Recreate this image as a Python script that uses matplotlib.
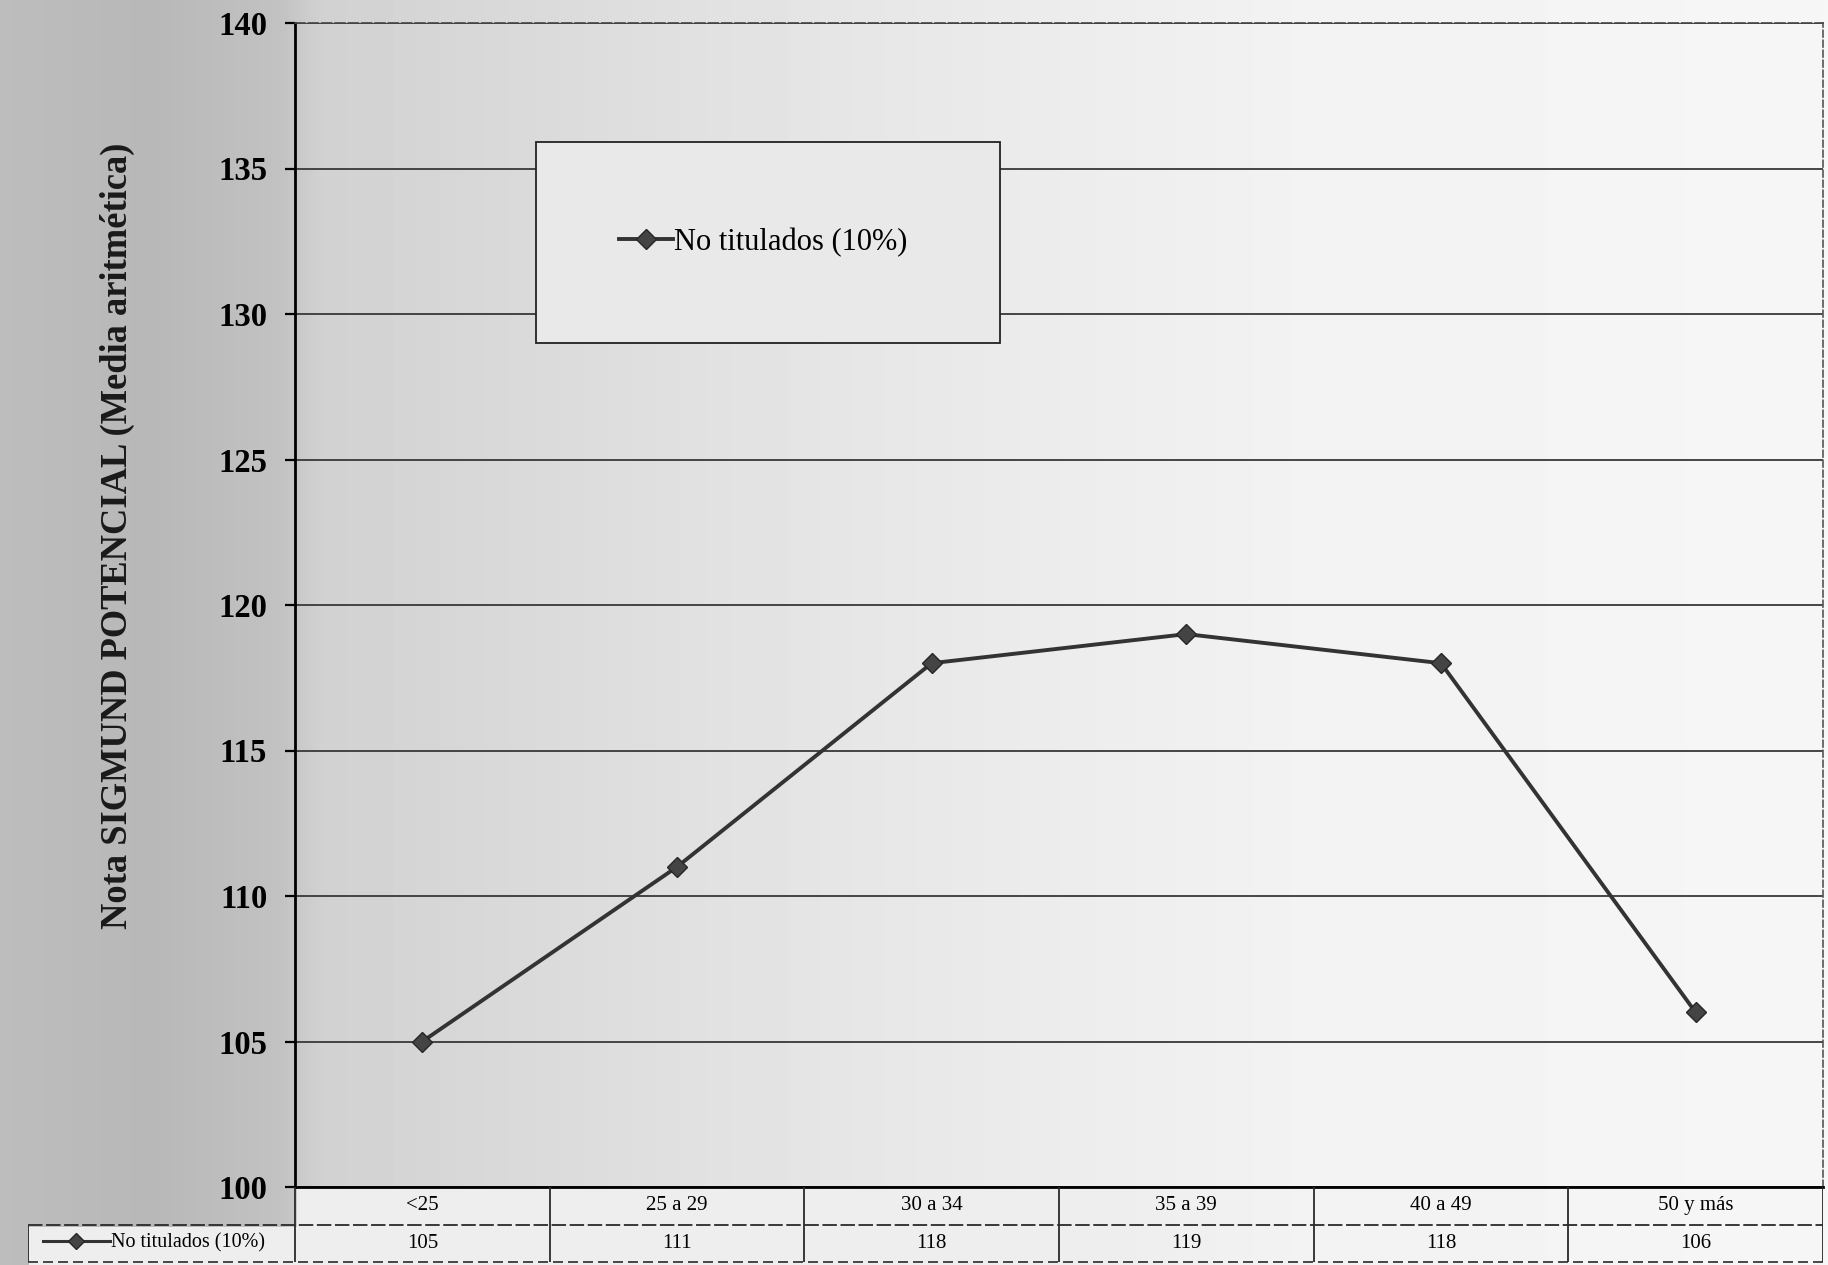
import matplotlib
matplotlib.use('Agg')
import matplotlib.pyplot as plt
from matplotlib.lines import Line2D
from matplotlib.patches import Rectangle
import numpy as np

# Data
age_groups = ["<25", "25 a 29", "30 a 34", "35 a 39", "40 a 49", "50 y más"]
no_titulados = [105, 111, 118, 119, 118, 106]
series_label = "No titulados (10%)"
y_ticks = [100, 105, 110, 115, 120, 125, 130, 135, 140]

plt.rcParams['font.family'] = ['Liberation Serif', 'DejaVu Serif']

W_PX, H_PX = 1828, 1265
fig = plt.figure(figsize=(W_PX / 100, H_PX / 100), dpi=100)

# ── Paper-like grey background (darker on the left) ─────────────
bg = fig.add_axes([0, 0, 1, 1], zorder=-10)
xs = np.arange(W_PX)
shade = np.interp(xs, [0, 150, 280, 320, 500, 750, 1000, 1300, 1828],
                  [0.74, 0.72, 0.76, 0.82, 0.85, 0.89, 0.92, 0.95, 0.965])
img = np.tile(shade, (H_PX, 1))
ys = np.arange(H_PX)[:, None]
# table strip at the bottom is lighter
row1 = (ys > 1188) & (ys <= 1226) & (xs[None, :] > 296)
row2 = (ys > 1226) & (xs[None, :] > 28)
img = np.where(row1 | row2, np.maximum(img, 0.93), img)
bg.imshow(img, cmap='gray', vmin=0, vmax=1, aspect='auto',
          extent=[0, 1, 0, 1], interpolation='bilinear')
bg.axis('off')

# ── Main line chart ──────────────────────────────────────────────
left_px, right_px, top_px, bottom_px = 295, 1823, 23, 1187
ax = fig.add_axes([left_px / W_PX, 1 - bottom_px / H_PX,
                   (right_px - left_px) / W_PX, (bottom_px - top_px) / H_PX])
ax.set_facecolor('none')

x = np.arange(len(age_groups))
line_color = '#333333'
ax.plot(x, no_titulados, color=line_color, lw=2.8, marker='D',
        markersize=10, markerfacecolor='#444444', markeredgecolor='#262626',
        zorder=5, clip_on=False)

ax.set_xlim(-0.5, len(age_groups) - 0.5)
ax.set_ylim(100, 140)
ax.set_yticks(y_ticks)
ax.set_xticks([])
ax.tick_params(axis='y', direction='out', length=7, width=1.6, pad=13,
               labelsize=23.5, color='black')
for lbl in ax.get_yticklabels():
    lbl.set_fontweight('bold')

ax.yaxis.grid(True, color='#383838', lw=1.3, zorder=1)
ax.set_axisbelow(True)
ax.spines['left'].set_linewidth(2.0)
ax.spines['bottom'].set_linewidth(2.0)
ax.spines['top'].set_color('#444444')
ax.spines['top'].set_linewidth(1.2)
ax.spines['top'].set_linestyle((0, (6, 2)))
ax.spines['right'].set_color('#555555')
ax.spines['right'].set_linewidth(1.2)
ax.spines['right'].set_linestyle((0, (4, 2)))

fig.text(117 / W_PX, 1 - 536 / H_PX,
         "Nota SIGMUND POTENCIAL (Media aritmética)",
         rotation=90, ha='center', va='center', fontsize=26.3,
         fontweight='bold', color='#1a1a1a')

# Legend box inside the plot
lx0, lx1, ly0, ly1 = 536, 1000, 142, 343
box = Rectangle(((lx0 - left_px) / (right_px - left_px),
                 (bottom_px - ly1) / (bottom_px - top_px)),
                (lx1 - lx0) / (right_px - left_px),
                (ly1 - ly0) / (bottom_px - top_px),
                transform=ax.transAxes, facecolor='#e9e9e9',
                edgecolor='#222222', lw=1.3, zorder=3)
ax.add_patch(box)
handle = Line2D([], [], color=line_color, lw=2.8, marker='D', markersize=10,
                markerfacecolor='#444444', markeredgecolor='#262626')
cx = ((lx0 + lx1) / 2 - left_px) / (right_px - left_px)
cy = (bottom_px - (ly0 + ly1) / 2) / (bottom_px - top_px)
leg = ax.legend([handle], [series_label], loc='center',
                bbox_to_anchor=(cx - 0.003, cy), frameon=False, fontsize=22,
                handlelength=1.75, handletextpad=0.05)
leg.set_zorder(6)

# ── Data table under the axis ───────────────────────────────────
tab_left_px, tab_bottom_px = 28, 1262
units_per_px = len(age_groups) / (right_px - left_px)
tab_xmin = -0.5 - (left_px - tab_left_px) * units_per_px
tax = fig.add_axes([tab_left_px / W_PX, 1 - tab_bottom_px / H_PX,
                    (right_px - tab_left_px) / W_PX,
                    (tab_bottom_px - bottom_px) / H_PX])
tax.set_facecolor('none')
tax.set_xlim(tab_xmin, len(age_groups) - 0.5)
tax.set_ylim(0, 2)
tax.axis('off')

edge = '#2a2a2a'
tax.hlines([1], tab_xmin, len(age_groups) - 0.5, color=edge, lw=1.3,
           linestyles=[(0, (8, 2))])
tax.hlines([0], tab_xmin, len(age_groups) - 0.5, color=edge, lw=1.2,
           linestyles=[(0, (6, 3))], clip_on=False)
tax.vlines(np.arange(len(age_groups) + 1) - 0.5, 0, 2, color=edge, lw=1.3)
tax.vlines([tab_xmin], 0, 1, color=edge, lw=1.3)

for i, (cat, val) in enumerate(zip(age_groups, no_titulados)):
    tax.text(i, 1.5, cat, ha='center', va='center', fontsize=15)
    tax.text(i, 0.5, f"{val}", ha='center', va='center', fontsize=15)

row_handle = Line2D([], [], color=line_color, lw=2.2, marker='D',
                    markersize=8.5, markerfacecolor='#444444',
                    markeredgecolor='#262626')
tax.legend([row_handle], [series_label], loc='center left',
           bbox_to_anchor=(tab_xmin, 0, -0.5 - tab_xmin, 1),
           bbox_transform=tax.transData, frameon=False, fontsize=14.5,
           handlelength=3.3, handletextpad=0.05, borderaxespad=0.75,
           borderpad=0.0)

fig.savefig("out.png", dpi=100)
plt.close(fig)
